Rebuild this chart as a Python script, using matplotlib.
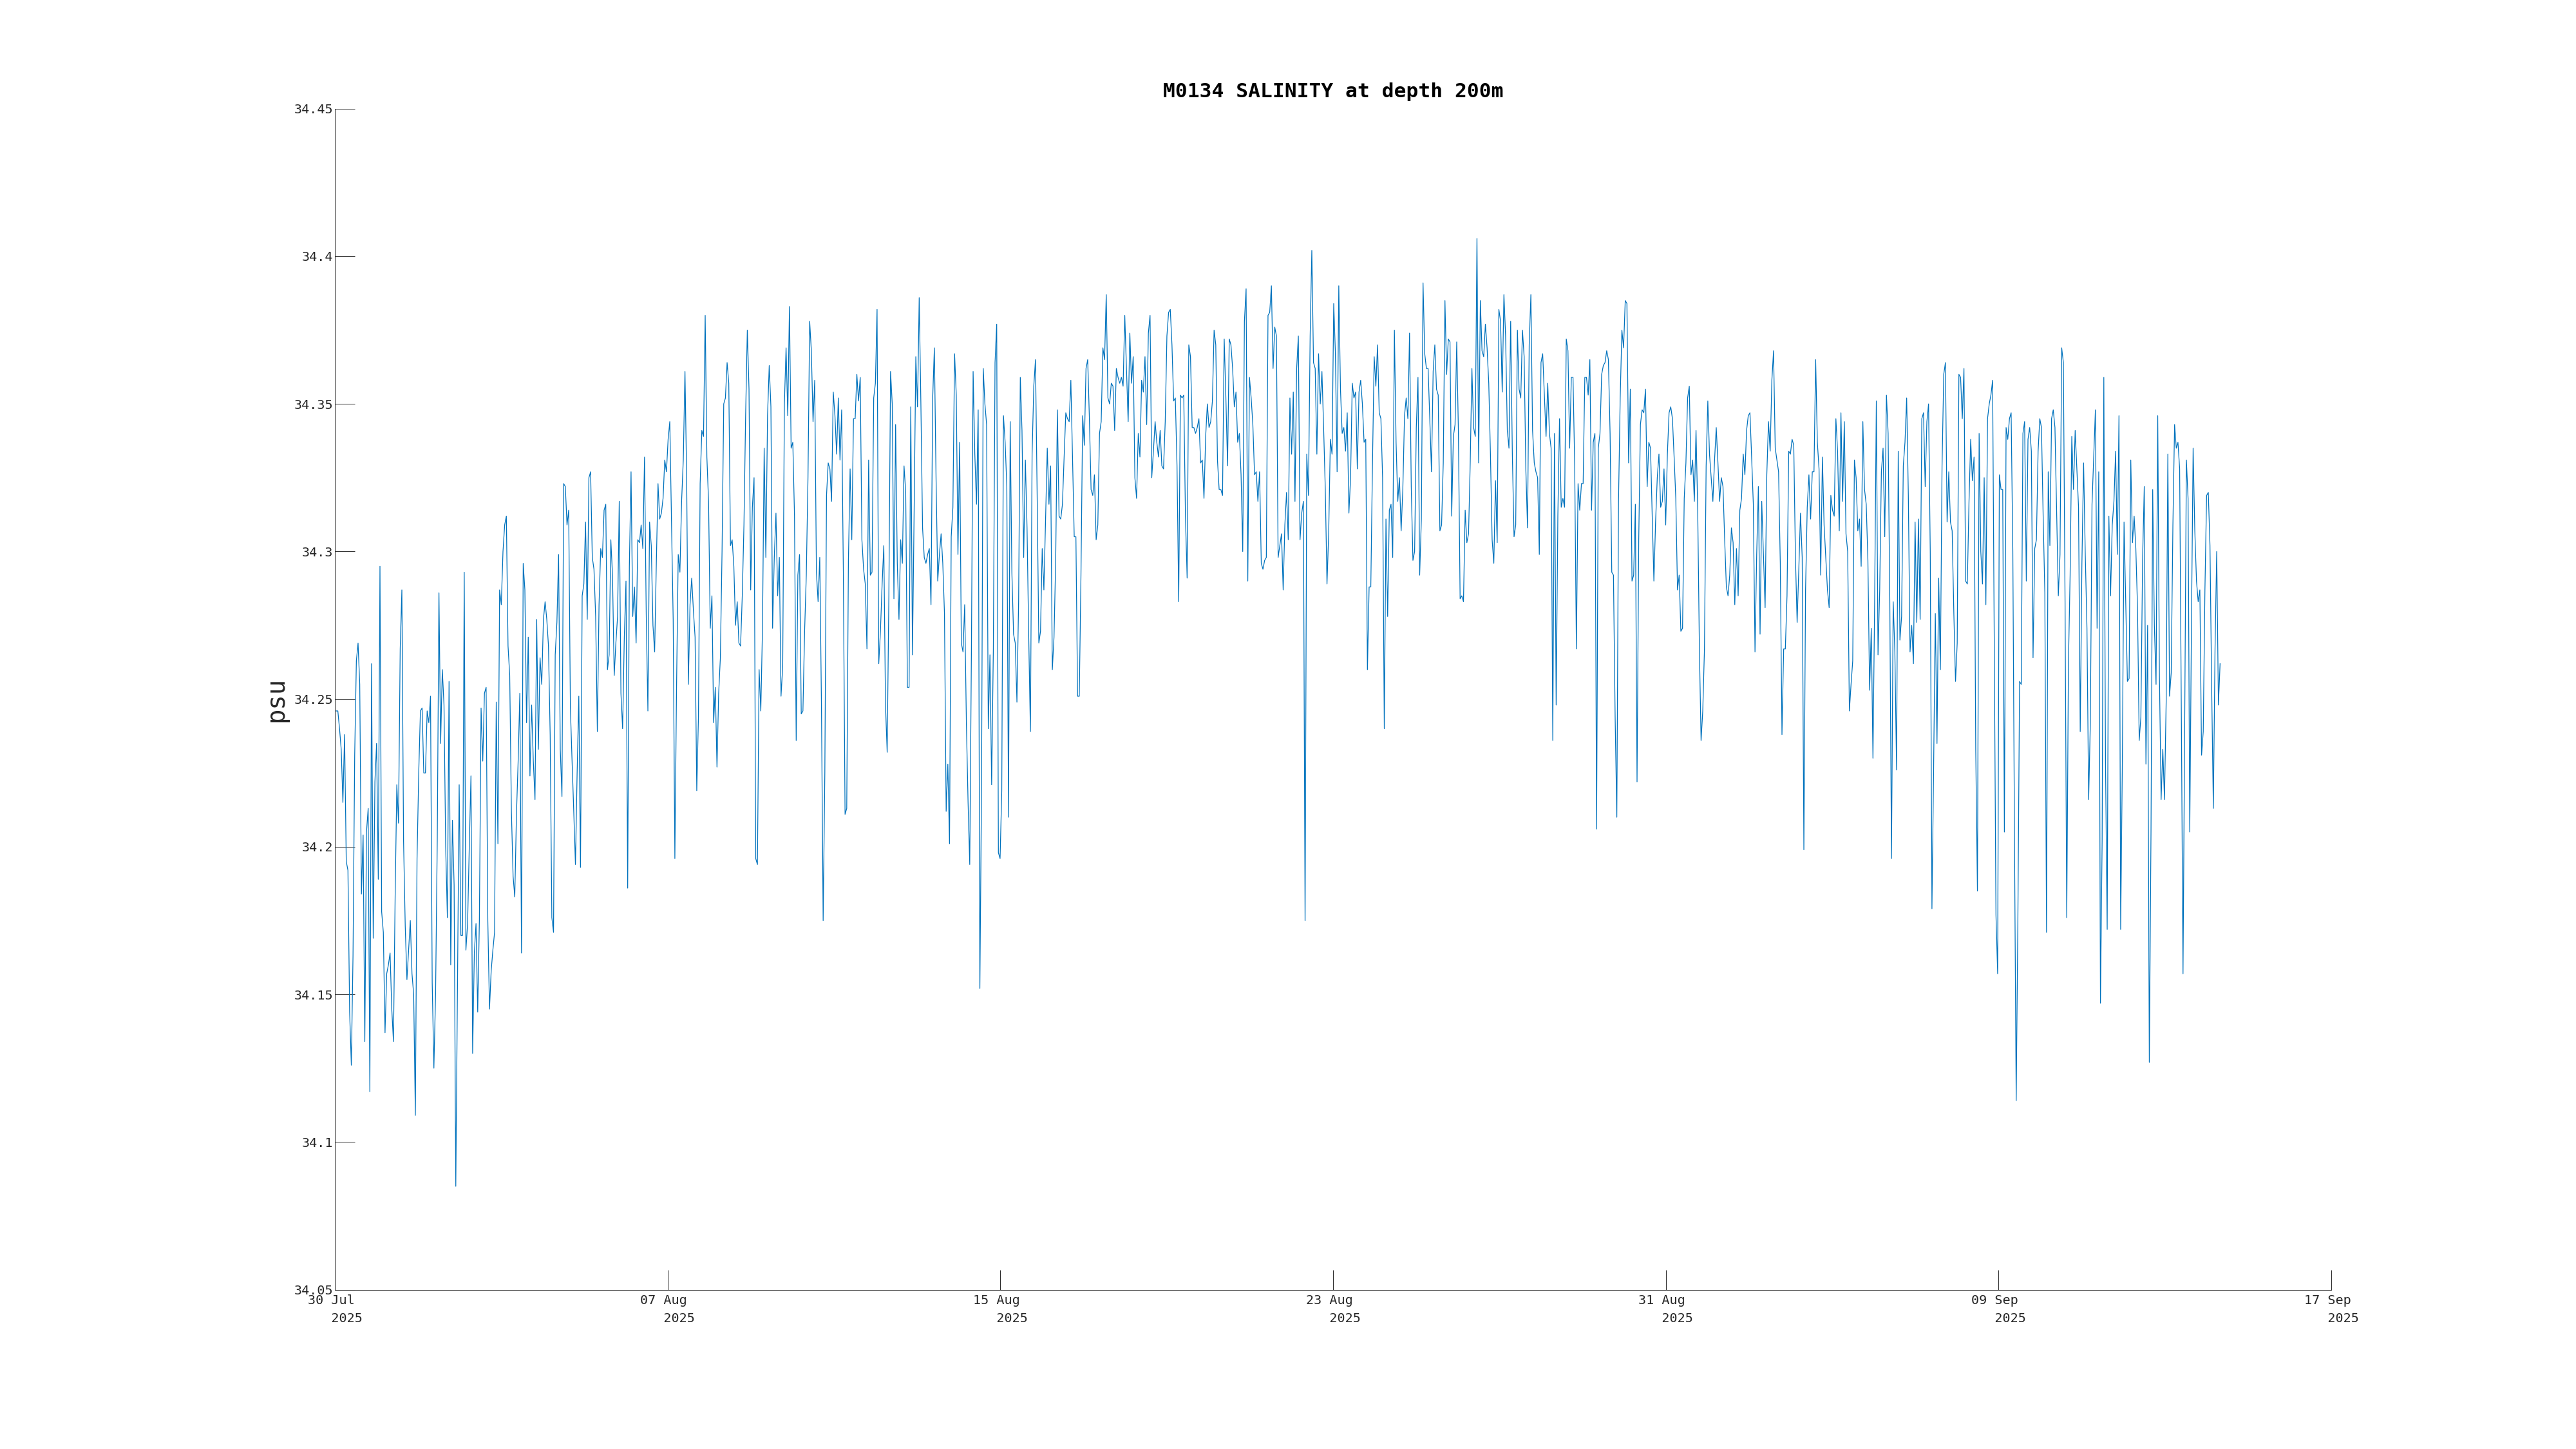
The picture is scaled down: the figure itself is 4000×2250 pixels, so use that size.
import matplotlib
matplotlib.use("Agg")
import matplotlib.dates as mdates
import matplotlib.pyplot as plt
import numpy as np
import pandas as pd

# hourly salinity (psu) at 200 m in six chunks
sal_a = [34.246, 34.246, 34.240, 34.233, 34.215, 34.238, 34.195, 34.192, 34.144, 34.126,
         34.163, 34.231, 34.263, 34.269, 34.255, 34.184, 34.204, 34.134, 34.205, 34.213,
         34.117, 34.262, 34.169, 34.222, 34.235, 34.189, 34.295, 34.178, 34.171, 34.137,
         34.157, 34.160, 34.164, 34.145, 34.134, 34.183, 34.221, 34.208, 34.267, 34.287,
         34.202, 34.173, 34.155, 34.165, 34.175, 34.157, 34.150, 34.109, 34.196, 34.225,
         34.246, 34.247, 34.225, 34.225, 34.246, 34.242, 34.251, 34.154, 34.125, 34.150,
         34.202, 34.286, 34.235, 34.260, 34.248, 34.200, 34.176, 34.256, 34.160, 34.209,
         34.187, 34.085, 34.152, 34.221, 34.170, 34.170, 34.293, 34.165, 34.174, 34.200,
         34.224, 34.130, 34.164, 34.174, 34.144, 34.175, 34.247, 34.229, 34.252, 34.254,
         34.175, 34.145, 34.158, 34.165, 34.171, 34.249, 34.201, 34.287, 34.282, 34.300,
         34.309, 34.312, 34.268, 34.258, 34.212, 34.190, 34.183, 34.211, 34.229, 34.252,
         34.164, 34.296, 34.287, 34.242, 34.271, 34.224, 34.248, 34.229, 34.216, 34.277,
         34.233, 34.264, 34.255, 34.277, 34.283, 34.277, 34.268, 34.238, 34.176, 34.171,
         34.265, 34.276, 34.299, 34.233, 34.217, 34.323, 34.322, 34.309, 34.314, 34.247,
         34.229, 34.212, 34.194, 34.225, 34.251, 34.193, 34.285, 34.289, 34.310, 34.277,
         34.325, 34.327, 34.298, 34.294, 34.278, 34.239, 34.282, 34.301, 34.298, 34.314,
         34.316, 34.260, 34.265, 34.304, 34.292, 34.258, 34.269, 34.278, 34.317, 34.252,
         34.240, 34.271, 34.290, 34.186, 34.295, 34.327, 34.278, 34.288, 34.269, 34.304,
         34.303, 34.309, 34.301, 34.332, 34.279, 34.246, 34.310, 34.302, 34.275, 34.266,
         34.296, 34.323]
sal_b = [34.311, 34.313, 34.318, 34.331, 34.327, 34.338, 34.344, 34.310, 34.277, 34.196,
         34.254, 34.299, 34.293, 34.317, 34.331, 34.361, 34.325, 34.255, 34.282, 34.291,
         34.280, 34.271, 34.219, 34.244, 34.323, 34.341, 34.339, 34.380, 34.332, 34.317,
         34.274, 34.285, 34.242, 34.254, 34.227, 34.252, 34.264, 34.300, 34.350, 34.352,
         34.364, 34.357, 34.302, 34.304, 34.295, 34.275, 34.283, 34.269, 34.268, 34.285,
         34.309, 34.346, 34.375, 34.355, 34.287, 34.315, 34.325, 34.196, 34.194, 34.260,
         34.246, 34.274, 34.335, 34.298, 34.346, 34.363, 34.349, 34.274, 34.298, 34.313,
         34.285, 34.298, 34.251, 34.261, 34.350, 34.369, 34.346, 34.383, 34.335, 34.337,
         34.312, 34.236, 34.292, 34.299, 34.245, 34.246, 34.273, 34.292, 34.325, 34.378,
         34.368, 34.344, 34.358, 34.293, 34.283, 34.298, 34.248, 34.175, 34.225, 34.319,
         34.330, 34.328, 34.317, 34.354, 34.346, 34.333, 34.352, 34.331, 34.348, 34.292,
         34.211, 34.213, 34.297, 34.328, 34.304, 34.345, 34.345, 34.360, 34.351, 34.359,
         34.304, 34.294, 34.289, 34.267, 34.331, 34.292, 34.293, 34.352, 34.357, 34.382,
         34.262, 34.273, 34.289, 34.302, 34.248, 34.232, 34.285, 34.361, 34.350, 34.284,
         34.343, 34.296, 34.277, 34.304, 34.296, 34.329, 34.320, 34.254, 34.254, 34.349,
         34.265, 34.314, 34.366, 34.349, 34.386, 34.350, 34.308, 34.298, 34.296, 34.299,
         34.301, 34.282, 34.352, 34.369, 34.325, 34.290, 34.299, 34.306, 34.296, 34.279,
         34.212, 34.228, 34.201, 34.305, 34.315, 34.367, 34.353, 34.299, 34.337, 34.269,
         34.266, 34.282, 34.242]
sal_c = [34.215, 34.194, 34.267, 34.361, 34.333, 34.316, 34.348, 34.152, 34.221, 34.362,
         34.350, 34.343, 34.240, 34.265, 34.221, 34.267, 34.364, 34.377, 34.198, 34.196,
         34.219, 34.346, 34.337, 34.322, 34.210, 34.344, 34.293, 34.272, 34.269, 34.249,
         34.283, 34.359, 34.341, 34.298, 34.331, 34.308, 34.271, 34.239, 34.333, 34.356,
         34.365, 34.319, 34.269, 34.273, 34.301, 34.287, 34.311, 34.335, 34.316, 34.329,
         34.260, 34.271, 34.297, 34.348, 34.312, 34.311, 34.316, 34.332, 34.347, 34.345,
         34.344, 34.358, 34.331, 34.305, 34.305, 34.251, 34.251, 34.292, 34.346, 34.336,
         34.362, 34.365, 34.345, 34.321, 34.319, 34.326, 34.304, 34.309, 34.340, 34.344,
         34.369, 34.365, 34.387, 34.352, 34.350, 34.357, 34.356, 34.341, 34.362, 34.359,
         34.357, 34.359, 34.356, 34.380, 34.362, 34.344, 34.374, 34.357, 34.366, 34.325,
         34.318, 34.340, 34.332, 34.358, 34.354, 34.366, 34.343, 34.374, 34.380, 34.325,
         34.334, 34.344, 34.337, 34.332, 34.341, 34.329, 34.328, 34.344, 34.373, 34.381,
         34.382, 34.370, 34.351, 34.352, 34.329, 34.283, 34.353, 34.352, 34.353, 34.312,
         34.291, 34.370, 34.366, 34.342, 34.342, 34.340, 34.342, 34.345, 34.330, 34.331,
         34.318, 34.339, 34.350, 34.342, 34.344, 34.351, 34.375, 34.370, 34.331, 34.321,
         34.321, 34.319, 34.372, 34.352, 34.329, 34.372, 34.370, 34.362, 34.349, 34.354,
         34.337, 34.340, 34.326, 34.300, 34.378, 34.389, 34.290, 34.359, 34.352, 34.343,
         34.326, 34.327, 34.317, 34.327, 34.296, 34.294, 34.297, 34.298, 34.380, 34.381,
         34.390, 34.362, 34.376, 34.373]
sal_d = [34.298, 34.302, 34.306, 34.287, 34.309, 34.320, 34.304, 34.352, 34.333, 34.354,
         34.317, 34.362, 34.373, 34.304, 34.313, 34.317, 34.175, 34.333, 34.319, 34.373,
         34.402, 34.364, 34.362, 34.333, 34.367, 34.350, 34.361, 34.342, 34.321, 34.289,
         34.306, 34.338, 34.333, 34.384, 34.367, 34.327, 34.390, 34.355, 34.340, 34.342,
         34.334, 34.347, 34.313, 34.325, 34.357, 34.352, 34.354, 34.328, 34.354, 34.358,
         34.350, 34.337, 34.338, 34.260, 34.288, 34.288, 34.330, 34.366, 34.356, 34.370,
         34.347, 34.345, 34.325, 34.240, 34.311, 34.278, 34.314, 34.316, 34.298, 34.375,
         34.337, 34.317, 34.325, 34.307, 34.321, 34.346, 34.352, 34.345, 34.374, 34.322,
         34.297, 34.300, 34.342, 34.359, 34.292, 34.311, 34.391, 34.367, 34.362, 34.362,
         34.345, 34.327, 34.361, 34.370, 34.355, 34.353, 34.307, 34.309, 34.330, 34.385,
         34.360, 34.372, 34.371, 34.312, 34.339, 34.343, 34.371, 34.340, 34.284, 34.285,
         34.283, 34.314, 34.303, 34.306, 34.330, 34.362, 34.342, 34.339, 34.406, 34.330,
         34.385, 34.368, 34.366, 34.377, 34.369, 34.357, 34.333, 34.304, 34.296, 34.324,
         34.303, 34.382, 34.378, 34.354, 34.387, 34.373, 34.341, 34.335, 34.378, 34.333,
         34.305, 34.309, 34.375, 34.355, 34.352, 34.375, 34.366, 34.328, 34.308, 34.370,
         34.387, 34.341, 34.330, 34.327, 34.325, 34.299, 34.364, 34.367, 34.353, 34.339,
         34.357, 34.340, 34.335, 34.236, 34.340, 34.248, 34.312, 34.345, 34.315, 34.318,
         34.315, 34.372, 34.368, 34.335, 34.359, 34.359, 34.329, 34.267, 34.323, 34.314,
         34.323, 34.323, 34.359]
sal_e = [34.359, 34.353, 34.365, 34.314, 34.337, 34.340, 34.206, 34.335, 34.340, 34.360,
         34.363, 34.364, 34.368, 34.365, 34.340, 34.293, 34.292, 34.244, 34.210, 34.317,
         34.352, 34.375, 34.369, 34.385, 34.384, 34.330, 34.355, 34.290, 34.292, 34.316,
         34.222, 34.304, 34.343, 34.348, 34.347, 34.355, 34.322, 34.337, 34.335, 34.312,
         34.290, 34.310, 34.325, 34.333, 34.315, 34.317, 34.328, 34.309, 34.333, 34.347,
         34.349, 34.345, 34.332, 34.318, 34.287, 34.292, 34.273, 34.274, 34.318, 34.330,
         34.352, 34.356, 34.326, 34.331, 34.317, 34.341, 34.314, 34.267, 34.236, 34.246,
         34.267, 34.329, 34.351, 34.333, 34.325, 34.317, 34.331, 34.342, 34.330, 34.317,
         34.325, 34.322, 34.304, 34.288, 34.285, 34.292, 34.308, 34.303, 34.282, 34.301,
         34.285, 34.314, 34.318, 34.333, 34.326, 34.341, 34.346, 34.347, 34.332, 34.316,
         34.266, 34.299, 34.322, 34.272, 34.317, 34.299, 34.281, 34.326, 34.344, 34.334,
         34.358, 34.368, 34.335, 34.331, 34.327, 34.296, 34.238, 34.267, 34.267, 34.285,
         34.334, 34.333, 34.338, 34.336, 34.298, 34.276, 34.294, 34.313, 34.298, 34.199,
         34.287, 34.315, 34.326, 34.311, 34.327, 34.327, 34.365, 34.337, 34.328, 34.292,
         34.332, 34.309, 34.298, 34.287, 34.281, 34.319, 34.314, 34.312, 34.345, 34.334,
         34.307, 34.347, 34.317, 34.344, 34.306, 34.300, 34.246, 34.255, 34.263, 34.331,
         34.325, 34.307, 34.311, 34.295, 34.344, 34.321, 34.316, 34.297, 34.253, 34.274,
         34.230, 34.283, 34.351, 34.265, 34.287, 34.327, 34.335, 34.305, 34.353, 34.340,
         34.283, 34.196, 34.283]
sal_f = [34.266, 34.226, 34.334, 34.270, 34.278, 34.329, 34.337, 34.352, 34.319, 34.266,
         34.275, 34.262, 34.310, 34.276, 34.311, 34.277, 34.345, 34.347, 34.322, 34.344,
         34.350, 34.300, 34.179, 34.227, 34.279, 34.235, 34.291, 34.260, 34.329, 34.360,
         34.364, 34.310, 34.327, 34.310, 34.307, 34.279, 34.256, 34.269, 34.360, 34.359,
         34.345, 34.362, 34.290, 34.289, 34.317, 34.338, 34.324, 34.332, 34.233, 34.185,
         34.340, 34.300, 34.289, 34.325, 34.282, 34.345, 34.350, 34.353, 34.358, 34.267,
         34.177, 34.157, 34.326, 34.321, 34.321, 34.205, 34.342, 34.338, 34.345, 34.347,
         34.300, 34.202, 34.114, 34.175, 34.256, 34.255, 34.340, 34.344, 34.290, 34.338,
         34.342, 34.334, 34.264, 34.301, 34.304, 34.334, 34.345, 34.342, 34.312, 34.286,
         34.171, 34.327, 34.302, 34.345, 34.348, 34.342, 34.313, 34.285, 34.299, 34.369,
         34.364, 34.283, 34.176, 34.262, 34.292, 34.339, 34.321, 34.341, 34.328, 34.315,
         34.239, 34.296, 34.330, 34.299, 34.274, 34.216, 34.242, 34.316, 34.332, 34.348,
         34.274, 34.327, 34.147, 34.202, 34.359, 34.229, 34.172, 34.312, 34.285, 34.309,
         34.317, 34.334, 34.299, 34.346, 34.172, 34.229, 34.310, 34.283, 34.256, 34.257,
         34.331, 34.303, 34.312, 34.301, 34.281, 34.236, 34.244, 34.297, 34.322, 34.228,
         34.275, 34.127, 34.205, 34.321, 34.275, 34.255, 34.346, 34.258, 34.216, 34.233,
         34.216, 34.249, 34.333, 34.251, 34.259, 34.309, 34.343, 34.335, 34.337, 34.328,
         34.246, 34.157, 34.242, 34.331, 34.318, 34.205, 34.275, 34.335, 34.307, 34.290,
         34.283, 34.287, 34.231, 34.239, 34.287, 34.319, 34.320, 34.302, 34.254, 34.213,
         34.267, 34.300, 34.248, 34.262]

first_sample = "2025-07-30 00:45"
last_sample = "2025-09-14 06:30"

x_start, x_end = "2025-07-30", "2025-09-17"
date_labels = ["30 Jul", "07 Aug", "15 Aug", "23 Aug", "31 Aug", "09 Sep", "17 Sep"]
year_label = "2025"
y_ticks = [34.05, 34.1, 34.15, 34.2, 34.25, 34.3, 34.35, 34.4, 34.45]
y_tick_labels = ["34.05", "34.1", "34.15", "34.2", "34.25", "34.3", "34.35", "34.4", "34.45"]

salinity = np.array(sal_a + sal_b + sal_c + sal_d + sal_e + sal_f)
times = pd.date_range(first_sample, last_sample, periods=len(salinity))

MONO = "DejaVu Sans Mono"
AX_COLOR = "#262626"

fig = plt.figure(figsize=(40, 22.5), dpi=100)
ax = fig.add_axes([0.13, 0.11, 0.775, 0.815])
ax.plot(times, salinity, color="#0072BD", linewidth=0.9)

xmin, xmax = mdates.date2num(pd.Timestamp(x_start)), mdates.date2num(pd.Timestamp(x_end))
ax.set_xlim(xmin, xmax)
ax.set_xticks(np.linspace(xmin, xmax, len(date_labels)))
ax.set_xticklabels([f"{d}\n   {year_label}" for d in date_labels],
                   family=MONO, fontsize=14.5, color=AX_COLOR,
                   multialignment="left", linespacing=1.6)

ax.set_ylim(y_ticks[0], y_ticks[-1])
ax.set_yticks(y_ticks)
ax.set_yticklabels(y_tick_labels, family=MONO, fontsize=14.5, color=AX_COLOR)

ax.tick_params(axis="both", direction="in", length=22, width=0.7, color=AX_COLOR)
ax.tick_params(axis="y", pad=2)
ax.tick_params(axis="x", pad=5.5)

for side in ("top", "right"):
    ax.spines[side].set_visible(False)
for side in ("left", "bottom"):
    ax.spines[side].set_color(AX_COLOR)
    ax.spines[side].set_linewidth(0.7)

ax.set_ylabel("psu", family=MONO, fontsize=28, color=AX_COLOR, va="center")
ax.yaxis.set_label_coords(-0.0297, 0.5)
ax.set_title("M0134 SALINITY at depth 200m", family=MONO, fontsize=22.5,
             fontweight="bold", pad=12.5)

fig.savefig("out.png", dpi=100, facecolor="white")
